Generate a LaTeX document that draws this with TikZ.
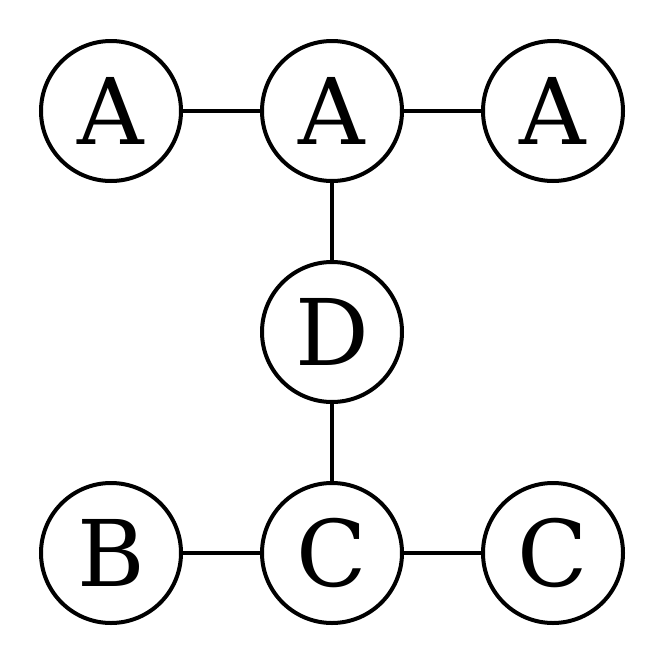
\documentclass[tikz,border=0pt]{standalone}
\usepackage{fontspec}
\setmainfont{DejaVu Serif}
\begin{document}
\begin{tikzpicture}[x=1pt,y=-1pt,
  vtx/.style={circle,draw,line width=4pt,minimum size=140pt,inner sep=0pt,font=\fontsize{92}{92}\selectfont},
  edge/.style={line width=4pt}]
\useasboundingbox (0,0) rectangle (664,664);
\node[vtx] (a1) at (111,111) {A};
\node[vtx] (a2) at (332,111) {A};
\node[vtx] (a3) at (553,111) {A};
\node[vtx] (d) at (332,332) {D};
\node[vtx] (b) at (111,553) {B};
\node[vtx] (c1) at (332,553) {C};
\node[vtx] (c2) at (553,553) {C};
\draw[edge] (a1)--(a2) (a2)--(a3) (a2)--(d) (d)--(c1) (b)--(c1) (c1)--(c2);
\end{tikzpicture}
\end{document}
